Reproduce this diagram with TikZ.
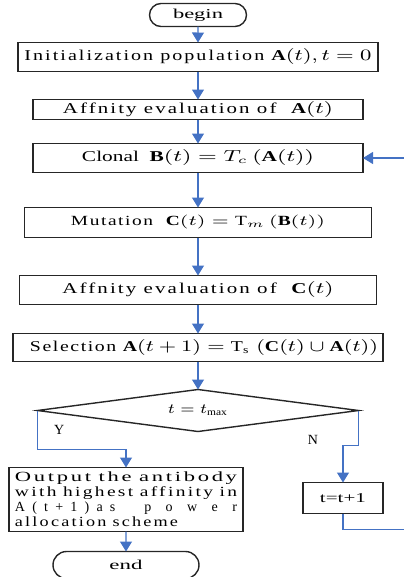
\documentclass[tikz,border=0pt]{standalone}
\usepackage{fontspec}
\setmainfont{Liberation Serif}
\usepackage{graphicx}
\usepackage{tikz}
\usetikzlibrary{
    shapes.geometric,
    shapes.misc,
    positioning,
    arrows.meta
}
\definecolor{flowblue}{RGB}{68,114,196}
\newcommand{\trackby}[1]{\addfontfeature{LetterSpace=#1}}
\newcommand{\fsz}[1]{\fontsize{#1}{1.1\dimexpr#1\relax}\selectfont}
% stretch a text sideways to a given width
\newcommand{\fitw}[2]{\resizebox{#1}{\height}{#2}}

\begin{document}
\begin{tikzpicture}[
        box/.style={draw=black!85, line width=0.7bp, inner sep=0pt, outer sep=0pt, font=\fsz{7.5bp}},
        term/.style={draw=black!85, line width=0.7bp, rounded rectangle, inner sep=0pt, outer sep=0pt, font=\fsz{6.8bp}},
        test/.style={draw=black!85, line width=0.7bp, diamond, aspect=7.6, inner sep=0pt, outer sep=0pt, font=\fsz{7bp}},
        link/.style={draw=flowblue, line width=0.6bp, -{Triangle[width=6bp,length=5bp]}},
        lbl/.style={inner sep=1bp, font=\fsz{7bp}}
      ]
      \useasboundingbox (-99bp,7.5bp) rectangle (103bp,-281bp);
      \clip (-99bp,7.5bp) rectangle (103bp,-281bp);

      \node[term, minimum width=48.5bp, minimum height=11.5bp] (begin) at (0,0) {\fitw{25bp}{begin}};
      \node[box, minimum width=180bp, minimum height=14.5bp, below=8bp of begin] (init)
            {\trackby{10}\fitw{173.5bp}{Initialization population $\mathbf{A}(t), t = 0$}};
      \node[box, minimum width=165bp, minimum height=10bp, below=14bp of init] (affA)
            {\trackby{10}\fitw{135bp}{Affnity evaluation of \ $\mathbf{A}(t)$}\hspace{8bp}};
      \node[box, minimum width=165bp, minimum height=14.5bp, below=12bp of affA] (clonal)
            {\fitw{116bp}{Clonal \ $\mathbf{B}(t) = T_c\,(\mathbf{A}(t))$}\hspace{2bp}};
      \node[box, minimum width=173.5bp, minimum height=15bp, below=17.5bp of clonal, font=\fsz{7bp}] (mutation)
            {\trackby{8}\fitw{127bp}{Mutation \ $\mathbf{C}(t) = \mathrm{T}_m\,(\mathbf{B}(t))$}\hspace{3.5bp}};
      \node[box, minimum width=178.5bp, minimum height=14.5bp, below=19bp of mutation] (affC)
            {\trackby{10}\fitw{135.5bp}{Affnity evaluation of \ $\mathbf{C}(t)$}\hspace{11bp}};
      \node[box, minimum width=185bp, minimum height=14bp, below=14.5bp of affC] (select)
            {\hspace{6bp}\trackby{8}\fitw{174bp}{Selection $\mathbf{A}(t+1) = \mathrm{T}_{\mathrm{s}}\ (\mathbf{C}(t)\cup\mathbf{A}(t))$}};
      \node[test, minimum width=160.5bp, minimum height=21bp, below=14bp of select] (dia)
            {\raisebox{1bp}{\fitw{30bp}{$t = t_{\max}$}}};

      \node[box, minimum width=117bp, minimum height=32bp, text width=111bp, align=left,
            below=18bp of dia, xshift=-36bp, font=\fontsize{7bp}{7.5bp}\selectfont\trackby{12}] (out)
            {\fitw{111bp}{Output the antibody}\\
             \fitw{111bp}{with highest affinity in}\\
             \leavevmode\hbox to 111bp{A\hfil(\hfil t\hfil+\hfil 1\hfil)\hfil a\hfil s\hfil\hfil\hfil\hfil p\hfil\hfil o\hfil\hfil w\hfil\hfil e\hfil\hfil r}\\
             \fitw{81.5bp}{allocation scheme}};
      \node[box, minimum width=40bp, minimum height=15.5bp, below=25.5bp of dia, xshift=72.5bp,
            font=\fsz{6.8bp}] (inc) {\fitw{23bp}{t=t+1}};
      \node[term, minimum width=73bp, minimum height=13.5bp, below=10bp of out] (end) {\fitw{16.5bp}{end}};

      \coordinate (loop) at (107bp,0);

      \draw[link] (begin) -- (init);
      \draw[link] (init) -- (affA);
      \draw[link] (affA) -- (clonal);
      \draw[link] (clonal) -- (mutation);
      \draw[link] (mutation) -- (affC);
      \draw[link] (affC) -- (select);
      \draw[link] (select) -- (dia);
      \draw[link] (dia.west) -- node[lbl, right=7bp] {Y} ++(0,-19.5bp) -| (out.north);
      \draw[link] (dia.east) -- ++(0,-17.5bp) -| (inc.north);
      \node[lbl] at ([shift={(57.5bp,-14.5bp)}]dia.center) {N};
      \draw[link] (out) -- (end);
      \draw[link] (inc.south) -- ++(0,-8bp) -| (loop |- clonal.east) -- (clonal.east);
    \end{tikzpicture}
\end{document}
